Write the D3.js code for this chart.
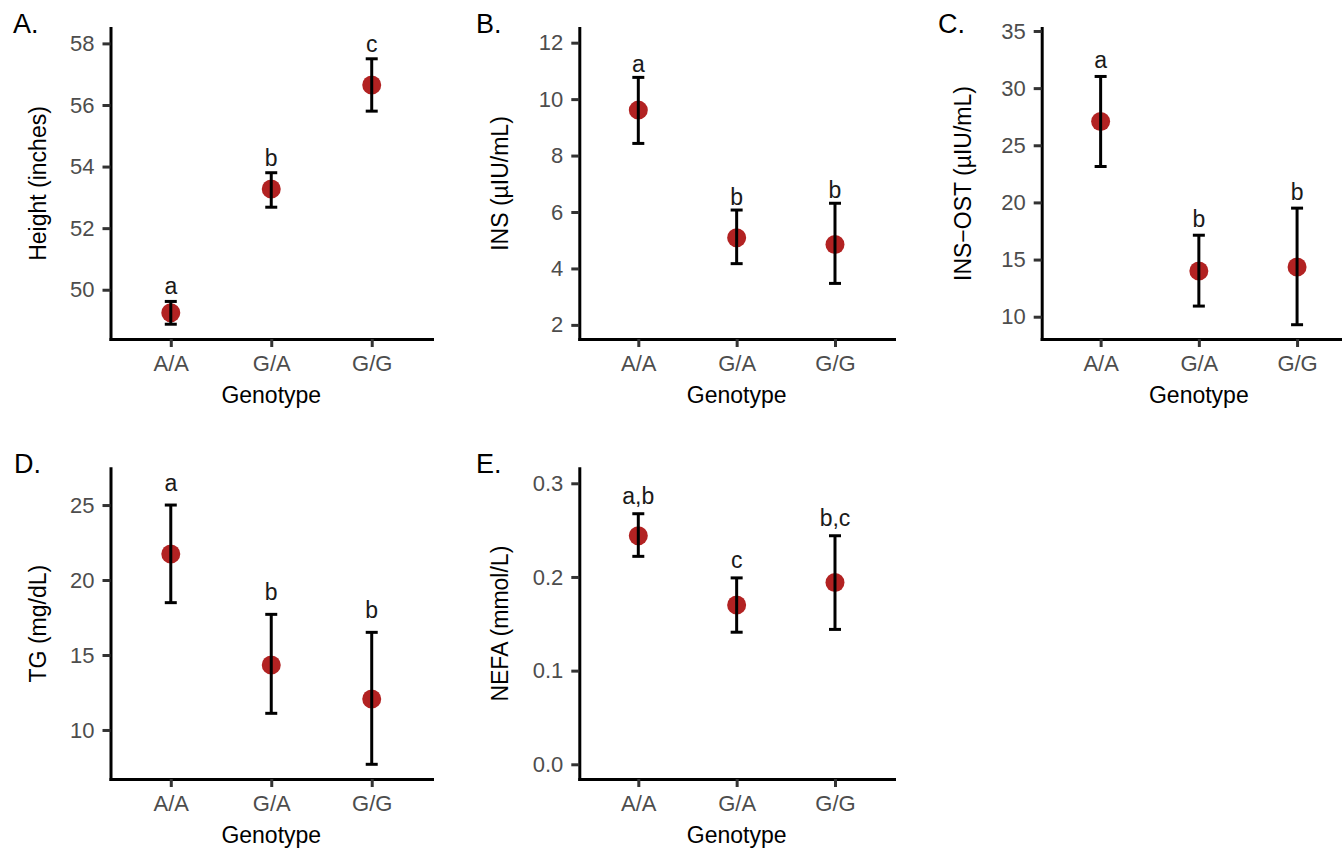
<!DOCTYPE html>
<html><head><meta charset="utf-8">
<script src="https://cdn.jsdelivr.net/npm/d3@7"></script>
<style>
body{margin:0;background:#fff}
svg{display:block}
text{font-family:"Liberation Sans",Arial,Helvetica,sans-serif}
</style>
</head><body>
<svg id="chart" width="1342" height="851"></svg>
<script>
// ---------- data ----------
const genotypes = ["A/A", "G/A", "G/G"];

const heightMean  = [49.25, 53.27, 56.65];
const heightLower = [48.88, 52.68, 55.80];
const heightUpper = [49.62, 53.80, 57.50];
const heightLetters = ["a", "b", "c"];
const heightTicks = [50, 52, 54, 56, 58];
const heightDomain = [48.4, 58.5];

const insMean  = [9.61, 5.09, 4.85];
const insLower = [8.43, 4.17, 3.47];
const insUpper = [10.77, 6.07, 6.31];
const insLetters = ["a", "b", "b"];
const insTicks = [2, 4, 6, 8, 10, 12];
const insDomain = [1.5, 12.52];

const insOstMean  = [27.08, 14.0, 14.35];
const insOstLower = [23.14, 10.93, 9.30];
const insOstUpper = [31.02, 17.13, 19.50];
const insOstLetters = ["a", "b", "b"];
const insOstTicks = [10, 15, 20, 25, 30, 35];
const insOstDomain = [8.05, 35.26];

const tgMean  = [21.73, 14.33, 12.07];
const tgLower = [18.49, 11.11, 7.71];
const tgUpper = [25.0, 17.71, 16.51];
const tgLetters = ["a", "b", "b"];
const tgTicks = [10, 15, 20, 25];
const tgDomain = [6.73, 27.45];

const nefaMean  = [0.244, 0.170, 0.194];
const nefaLower = [0.222, 0.141, 0.144];
const nefaUpper = [0.2675, 0.199, 0.244];
const nefaLetters = ["a,b", "c", "b,c"];
const nefaTicks = [0.0, 0.1, 0.2, 0.3];
const nefaDomain = [-0.0157, 0.316];

const panels = [
  {tag: "A.", title: "Height (inches)", mean: heightMean, lower: heightLower, upper: heightUpper, letters: heightLetters, ticks: heightTicks, domain: heightDomain, fmt: d3.format("d")},
  {tag: "B.", title: "INS (\u00b5IU/mL)", mean: insMean, lower: insLower, upper: insUpper, letters: insLetters, ticks: insTicks, domain: insDomain, fmt: d3.format("d")},
  {tag: "C.", title: "INS\u2212OST (\u00b5IU/mL)", mean: insOstMean, lower: insOstLower, upper: insOstUpper, letters: insOstLetters, ticks: insOstTicks, domain: insOstDomain, fmt: d3.format("d")},
  {tag: "D.", title: "TG (mg/dL)", mean: tgMean, lower: tgLower, upper: tgUpper, letters: tgLetters, ticks: tgTicks, domain: tgDomain, fmt: d3.format("d")},
  {tag: "E.", title: "NEFA (mmol/L)", mean: nefaMean, lower: nefaLower, upper: nefaUpper, letters: nefaLetters, ticks: nefaTicks, domain: nefaDomain, fmt: d3.format(".1f")}
];

// ---------- layout ----------
const layout = [
  {left: 110.5, right: 432, top: 28,    bottom: 339, tagX: 13,  tagY: 33,  titleX: 37.5, letterOff: 7},
  {left: 579.3, right: 894, top: 28,    bottom: 339, tagX: 476, tagY: 33,  titleX: 499.5, letterOff: 5.5},
  {left: 1041.7, right: 1356, top: 28,  bottom: 339, tagX: 938, tagY: 33,  titleX: 962.5, letterOff: 8.5},
  {left: 110.5, right: 432, top: 468.3, bottom: 779, tagX: 14,  tagY: 473, titleX: 38,   letterOff: 14.5},
  {left: 579.3, right: 894, top: 468.3, bottom: 779, tagX: 476, tagY: 473, titleX: 500,  letterOff: 10}
];

const TICK_FS = 22, TITLE_FS = 23, LETTER_FS = 23, TAG_FS = 27;
const POINT_COLOR = "#B22222";

const svg = d3.select("#chart");

panels.forEach((p, i) => {
  const L = layout[i];
  const g = svg.append("g");
  const x = d3.scalePoint().domain(genotypes).range([L.left, L.right]).padding(0.6);
  const y = d3.scaleLinear().domain(p.domain).range([L.bottom, L.top]);

  // y axis
  const ya = g.append("g").attr("transform", `translate(${L.left},0)`)
    .call(d3.axisLeft(y).tickValues(p.ticks).tickFormat(p.fmt).tickSize(8).tickSizeOuter(0).tickPadding(8));
  // x axis
  const xa = g.append("g").attr("transform", `translate(0,${L.bottom})`)
    .call(d3.axisBottom(x).tickSize(8).tickSizeOuter(0).tickPadding(8));

  [ya, xa].forEach(a => {
    a.select(".domain").attr("stroke", "#000").attr("stroke-width", 3).attr("stroke-linecap", "square");
    a.selectAll(".tick line").attr("stroke", "#333").attr("stroke-width", 3);
    a.selectAll(".tick text").attr("fill", "#4D4D4D").style("font-size", TICK_FS + "px");
  });

  // axis titles
  g.append("text").attr("x", (L.left + L.right) / 2).attr("y", L.bottom + 64)
    .attr("text-anchor", "middle").style("font-size", TITLE_FS + "px").attr("fill", "#000").text("Genotype");
  g.append("text").attr("transform", `translate(${L.titleX},${(L.top + L.bottom) / 2}) rotate(-90)`)
    .attr("text-anchor", "middle").attr("dy", "0.35em").style("font-size", TITLE_FS + "px").attr("fill", "#000").text(p.title);

  // panel tag
  g.append("text").attr("x", L.tagX).attr("y", L.tagY).style("font-size", TAG_FS + "px").attr("fill", "#000").text(p.tag);

  const rows = genotypes.map((k, j) => ({k, m: p.mean[j], lo: p.lower[j], hi: p.upper[j], lab: p.letters[j]}));

  // points
  g.selectAll("circle.pt").data(rows).join("circle").attr("class", "pt")
    .attr("cx", d => x(d.k)).attr("cy", d => y(d.m)).attr("r", 9.5).attr("fill", POINT_COLOR);

  // error bars
  const eb = g.selectAll("g.eb").data(rows).join("g").attr("class", "eb")
    .attr("stroke", "#000").attr("stroke-width", 3);
  eb.append("line").attr("x1", d => x(d.k)).attr("x2", d => x(d.k)).attr("y1", d => y(d.lo)).attr("y2", d => y(d.hi));
  eb.append("line").attr("x1", d => x(d.k) - 6).attr("x2", d => x(d.k) + 6).attr("y1", d => y(d.lo)).attr("y2", d => y(d.lo));
  eb.append("line").attr("x1", d => x(d.k) - 6).attr("x2", d => x(d.k) + 6).attr("y1", d => y(d.hi)).attr("y2", d => y(d.hi));

  // significance letters
  g.selectAll("text.lab").data(rows).join("text").attr("class", "lab")
    .attr("x", d => x(d.k)).attr("y", d => y(d.hi) - L.letterOff)
    .attr("text-anchor", "middle").style("font-size", LETTER_FS + "px").attr("fill", "#1a1a1a")
    .text(d => d.lab);
});
</script>
</body></html>
